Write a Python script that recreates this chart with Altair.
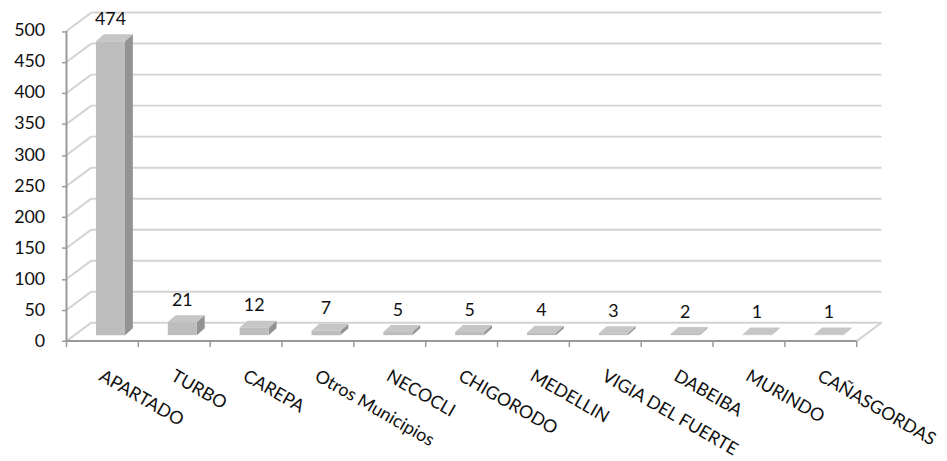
import json
import altair as alt
import pandas as pd

# ---------------- data ----------------
categories = ["APARTADO", "TURBO", "CAREPA", "Otros Municipios", "NECOCLI",
              "CHIGORODO", "MEDELLIN", "VIGIA DEL FUERTE", "DABEIBA",
              "MURINDO", "CAÑASGORDAS"]
values = [474, 21, 12, 7, 5, 5, 4, 3, 2, 1, 1]
y_ticks = [0, 50, 100, 150, 200, 250, 300, 350, 400, 450, 500]

# ---------------- pseudo-3D geometry (data units) ----------------
N = len(categories)
DX, DY = 0.345, 29.7      # depth of the walls
BL, BW = 0.41, 0.404      # bar left offset / width inside a category
B0 = 9.6                  # bar base lift (bar sits inside the floor)
BDX, BDY = 0.11, 11.2     # depth of the bars
XMAX = N + DX
YMAX = 500 + DY

FONT = "Lato"
GRID = "#d3d3d3"
AXIS = "#999999"

xs = alt.Scale(domain=[0, XMAX], nice=False, zero=False)
ys = alt.Scale(domain=[0, YMAX], nice=False, zero=False)

bars = pd.DataFrame({
    "cat": categories,
    "v": values,
    "xl": [i + BL for i in range(N)],
    "xr": [i + BL + BW for i in range(N)],
    "xc": [i + BL + BW / 2 for i in range(N)],
    "yb": [B0] * N,
    "yt": [B0 + v for v in values],
    "ylab": [B0 + v + BDY for v in values],
})

side_rows, top_rows = [], []
for i, (c, v) in enumerate(zip(categories, values)):
    xr = i + BL + BW
    xl = i + BL
    side_rows.append({"cat": c, "x": xr, "y": B0, "y2": B0 + v})
    side_rows.append({"cat": c, "x": xr + BDX, "y": B0 + BDY, "y2": B0 + v + BDY})
    top_rows.append({"cat": c, "y": B0 + v, "x": xl, "x2": xr})
    top_rows.append({"cat": c, "y": B0 + v + BDY, "x": xl + BDX, "x2": xr + BDX})
side = pd.DataFrame(side_rows)
top = pd.DataFrame(top_rows)

back_grid = pd.DataFrame({"x": [DX] * len(y_ticks), "x2": [XMAX] * len(y_ticks),
                          "y": [t + DY for t in y_ticks]})
diag = pd.DataFrame({"x": [0] * len(y_ticks), "x2": [DX] * len(y_ticks),
                     "y": y_ticks, "y2": [t + DY for t in y_ticks]})
floor_front = pd.DataFrame({"x": [0], "x2": [N], "y": [0], "y2": [0]})
floor_right = pd.DataFrame({"x": [N], "x2": [XMAX], "y": [0], "y2": [DY]})
y_line = pd.DataFrame({"x": [0], "x2": [0], "y": [0], "y2": [500]})
x_ticks = pd.DataFrame({"x": list(range(N + 1)), "y": [0] * (N + 1),
                        "y2": [-9.6] * (N + 1)})

label_expr = json.dumps(categories) + "[round(datum.value - 0.5)]"

x_axis = alt.Axis(values=[i + 0.5 for i in range(N)], labelExpr=label_expr,
                  labelAngle=30, labelAlign="left", labelBaseline="top",
                  labelPadding=26, labelOffset=2, ticks=False, tickSize=0,
                  domain=False, grid=False, title=None, labelFont=FONT,
                  labelFontSize=18, labelColor="#111111",
                  labelOverlap=False, labelFlush=False)
y_axis = alt.Axis(values=y_ticks, tickSize=5, tickColor=AXIS, tickWidth=1.5,
                  domain=False, grid=False, title=None, labelFont=FONT,
                  labelFontSize=18, labelPadding=17, labelColor="#111111",
                  labelOverlap=False)


def X(f):
    return alt.X(f, scale=xs, axis=x_axis)


def Y(f, **kw):
    return alt.Y(f, scale=ys, axis=y_axis, **kw)


def seg(df, color, width):
    return alt.Chart(df).mark_rule(color=color, strokeWidth=width).encode(
        x=X("x:Q"), x2="x2:Q", y=Y("y:Q"), y2="y2:Q")


grid_layer = alt.Chart(back_grid).mark_rule(color=GRID, strokeWidth=2).encode(
    x=X("x:Q"), x2="x2:Q", y=Y("y:Q"))

diag_layer = seg(diag, GRID, 2)
floor_right_layer = seg(floor_right, GRID, 2)
floor_front_layer = seg(floor_front, AXIS, 2)
y_line_layer = seg(y_line, AXIS, 2)

tick_layer = alt.Chart(x_ticks).mark_rule(color=AXIS, strokeWidth=1.5).encode(
    x=X("x:Q"), y=Y("y:Q"), y2="y2:Q")

side_layer = alt.Chart(side).mark_area(orient="vertical", color="#939393").encode(
    x=X("x:Q"), y=Y("y:Q", stack=None), y2="y2:Q", detail="cat:N")

top_layer = alt.Chart(top).mark_area(orient="horizontal", color="#c6c6c6").encode(
    y=Y("y:Q"), x=alt.X("x:Q", scale=xs, axis=x_axis, stack=None), x2="x2:Q",
    detail="cat:N")

front_layer = alt.Chart(bars).mark_rect(color="#bdbdbd").encode(
    x=X("xl:Q"), x2="xr:Q", y=Y("yb:Q"), y2="yt:Q")

label_layer = alt.Chart(bars).mark_text(
    font=FONT, fontSize=18, color="#111111", baseline="alphabetic",
    align="center", dy=-9.5).encode(
    x=X("xc:Q"), y=Y("ylab:Q"), text="v:Q")

chart = alt.layer(
    grid_layer, diag_layer, floor_right_layer, floor_front_layer, y_line_layer,
    tick_layer, side_layer, top_layer, front_layer, label_layer
).properties(
    width=822, height=331.3,
    padding={"left": 59, "top": 2.7, "right": 58, "bottom": 119},
    autosize=alt.AutoSizeParams(type="none"),
    background="white",
).configure_view(stroke=None)

chart.save("out.html", embed_options={"renderer": "svg", "actions": False})
